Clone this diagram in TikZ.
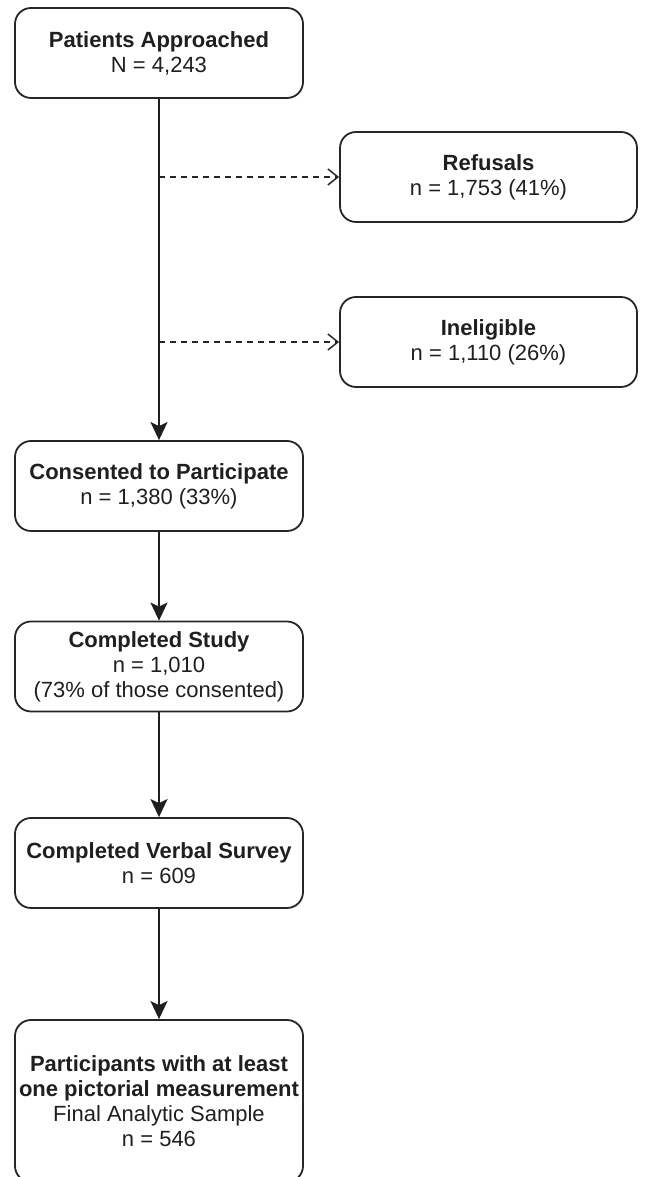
\documentclass[tikz,border=0pt]{standalone}
\usepackage{fontspec}
\setmainfont{Liberation Sans}
\usetikzlibrary{positioning, arrows.meta}

\begin{document}
\begin{tikzpicture}[x=1pt, y=1pt,
        box/.style={rectangle, rounded corners=16pt, draw=black!85, line width=1.8pt,
          minimum width=288pt, minimum height=90pt, align=center, text=black!88,
          font=\fontsize{22}{25}\selectfont},
        sidebox/.style={box, minimum width=297pt},
        flow/.style={-{Stealth[length=18pt, width=17pt, inset=4pt]}, line width=1.9pt, draw=black!88},
        skip/.style={-{Straight Barb[length=10pt, width=16pt]}, line width=1.5pt,
          dash pattern=on 6pt off 5pt, draw=black!85}]

        \useasboundingbox (0,0) rectangle (650,1177);

        \node[box]     (approached) at (159,1124)   {\textbf{Patients Approached}\\N = 4,243};
        \node[sidebox] (refusals)   at (488.5,1000) {\textbf{Refusals}\\n = 1,753 (41\%)};
        \node[sidebox] (ineligible) at (488.5,835)  {\textbf{Ineligible}\\n = 1,110 (26\%)};
        \node[box]     (consented)  at (159,691)    {\textbf{Consented to Participate}\\n = 1,380 (33\%)};
        \node[box]     (study)      at (159,510.5)  {\textbf{Completed Study}\\n = 1,010\\(73\% of those consented)};
        \node[box]     (verbal)     at (159,314)    {\textbf{Completed Verbal Survey}\\n = 609};
        \node[box, minimum height=162pt] (final) at (159,76)
          {\textbf{Participants with at least}\\\textbf{one pictorial measurement}\\Final Analytic Sample\\n = 546};

        % split points on the main line
        \coordinate (splitA) at (approached.south |- refusals.west);
        \coordinate (splitB) at (approached.south |- ineligible.west);

        % exclusions
        \draw[skip] (splitA) -- (refusals.west);
        \draw[skip] (splitB) -- (ineligible.west);

        % main flow
        \draw[flow] (approached) -- (consented);
        \draw[flow] (consented) -- (study);
        \draw[flow] (study) -- (verbal);
        \draw[flow] (verbal) -- (final);
      \end{tikzpicture}
\end{document}
